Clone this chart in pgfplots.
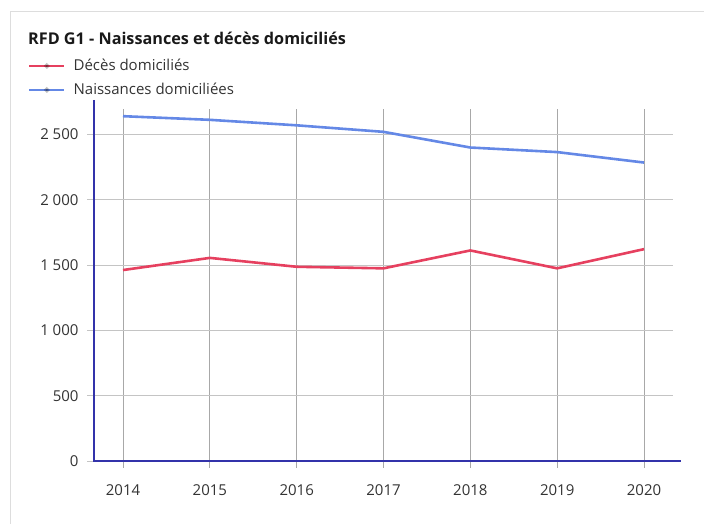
\documentclass[border=0pt]{standalone}
\usepackage{fontspec}
\setmainfont{Open Sans}
\usepackage{pgfplots}
\pgfplotsset{compat=1.18}
\definecolor{redline}{HTML}{E6405F}
\definecolor{blueline}{HTML}{6488E6}
\definecolor{axisblue}{HTML}{3333AA}
\definecolor{gridh}{HTML}{C4C4C4}
\definecolor{gridv}{HTML}{A8A8A8}
\definecolor{framec}{HTML}{DDDDDD}
\definecolor{txt}{HTML}{333333}
\begin{document}
\begin{tikzpicture}
\useasboundingbox (0pt,0pt) rectangle (704pt,524pt);
\draw[framec, line width=1pt] (10pt,0pt) -- (10pt,512pt) -- (704pt,512pt);
\node[anchor=base west, font=\fontsize{16.2}{18}\selectfont\bfseries, text=black!90, inner sep=0] at (28pt,479.5pt) {RFD G1 - Naissances et décès domiciliés};
\begin{axis}[
  at={(94pt,63pt)}, anchor=south west, scale only axis,
  width=579pt, height=352pt,
  xmin=2013.666, xmax=2020.334, ymin=0, ymax=2695,
  xtick={2014,2015,2016,2017,2018,2019,2020},
  ytick={0,500,1000,1500,2000,2500},
  tick pos=left, tick align=outside, major tick length=7pt,
  axis line style={draw=none},
  grid=major,
  x grid style={gridv, line width=0.8pt},
  y grid style={gridh, line width=0.8pt},
  xtick style={gridv, line width=0.8pt},
  ytick style={gridh, line width=0.8pt},
  /pgf/number format/assume math mode=true,
  ticklabel style={font=\fontsize{15}{17}\selectfont, text=txt},
  x tick label style={/pgf/number format/1000 sep={}, yshift=-13pt},
  y tick label style={/pgf/number format/1000 sep={\ }, xshift=-5pt},
  clip=false,
  legend style={at={(-0.1145,1.147)}, anchor=north west, draw=none, fill=none,
    font=\fontsize{15}{17}\selectfont, text=txt, row sep=7pt, inner sep=0pt},
  legend cell align=left,
  legend image code/.code={\draw[#1, line width=2.8pt] (0pt,0pt) -- (35pt,0pt);
    \fill[black, opacity=0.25] (17.5pt,0pt) circle (1.2pt);
    \path (41pt,0pt);},
]
\draw[axisblue, line width=1.8pt] (rel axis cs:0,1.026) -- (rel axis cs:0,0) -- (rel axis cs:1.0138,0);
\addplot[redline, line width=2.6pt] coordinates {
(2014,1462) (2015,1555) (2016,1487) (2017,1475) (2018,1612) (2019,1475) (2020,1622)};
\addlegendentry{Décès domiciliés}
\addplot[blueline, line width=2.6pt] coordinates {
(2014,2640) (2015,2612) (2016,2570) (2017,2520) (2018,2400) (2019,2365) (2020,2285)};
\addlegendentry{Naissances domiciliées}
\end{axis}
\end{tikzpicture}
\end{document}
